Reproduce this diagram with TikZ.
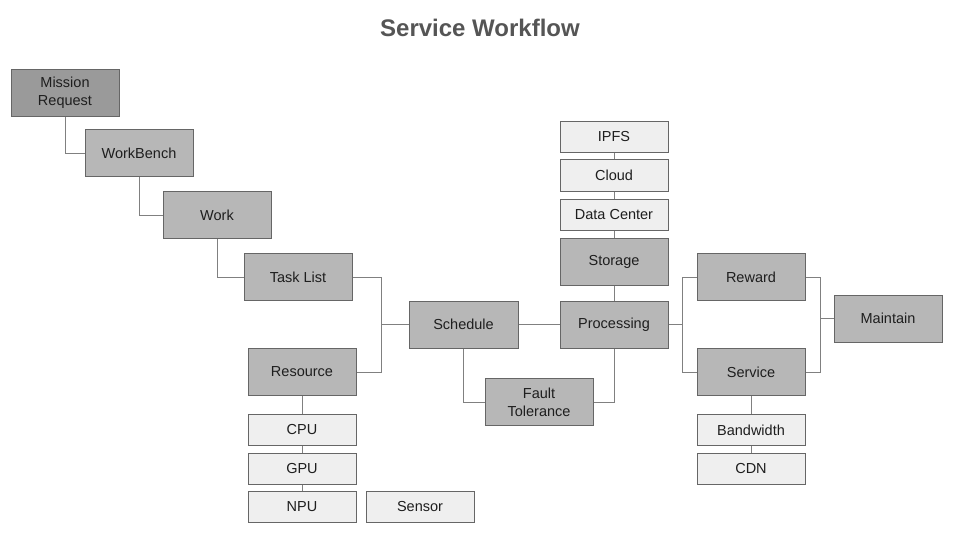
\documentclass[tikz,border=0pt]{standalone}
\usepackage{fontspec}
\setmainfont{Liberation Sans}
\usepackage{tikz}
\usetikzlibrary{positioning,calc}

\definecolor{boxline}{HTML}{666666}
\definecolor{wire}{HTML}{808080}
\definecolor{midfill}{HTML}{B7B7B7}
\definecolor{darkfill}{HTML}{9A9A9A}
\definecolor{lightfill}{HTML}{EFEFEF}
\definecolor{txt}{HTML}{1E1E1E}
\definecolor{titlegray}{HTML}{555555}

\begin{document}
\begin{tikzpicture}[x=1pt, y=-1pt,
    box/.style={draw=boxline, line width=1pt, fill=midfill, text=txt,
        minimum width=108pt, minimum height=47pt, inner sep=0pt,
        align=center, font=\fontsize{14.5}{18}\selectfont},
    topbox/.style={box, fill=darkfill},
    subbox/.style={box, fill=lightfill, minimum height=31pt},
    link/.style={draw=wire, line width=1pt}]
				\useasboundingbox (0,0) rectangle (960,540);
				
				\node [font=\bfseries\fontsize{24}{28}\selectfont, text=titlegray] (title) at (480,28) {Service Workflow};
				
				% left chain
				\node [topbox] (mission) at (65,93) {Mission\\Request};
				\node [box] (bench) at (139,153.5) {WorkBench};
				\node [box] (work) at (217,215) {Work};
				\node [box] (tasks) at (298,277) {Task List};
				\node [box] (resource) at (302,372) {Resource};
				\node [subbox] (cpu) at (302,429.5) {CPU};
				\node [subbox] (gpu) at (302,468.5) {GPU};
				\node [subbox] (npu) at (302,507) {NPU};
				\node [subbox] (sensor) at (420,507) {Sensor};
				
				% middle
				\node [box, minimum width=109pt] (schedule) at (463.5,324.5) {Schedule};
				\node [box] (fault) at (539,402) {Fault\\Tolerance};
				\node [box] (processing) at (614,324.5) {Processing};
				\node [box] (storage) at (614,261.5) {Storage};
				\node [subbox] (center) at (614,214.5) {Data Center};
				\node [subbox] (cloud) at (614,175.5) {Cloud};
				\node [subbox] (ipfs) at (614,137) {IPFS};
				
				% right
				\node [box] (reward) at (751,277) {Reward};
				\node [box] (service) at (751,372) {Service};
				\node [subbox] (bandwidth) at (751,430) {Bandwidth};
				\node [subbox] (cdn) at (751,468.5) {CDN};
				\node [box] (maintain) at (888,318.5) {Maintain};
				
				\coordinate (jleft) at (381,324.5);
				\coordinate (jmid) at (682,324.5);
				\coordinate (jright) at (820,318.5);
				
				\draw [link] (mission.south) |- (bench.west);
				\draw [link] (bench.south) |- (work.west);
				\draw [link] (work.south) |- (tasks.west);
				\draw [link] (tasks.east) -| (jleft);
				\draw [link] (resource.east) -| (jleft);
				\draw [link] (jleft) -- (schedule.west);
				\draw [link] (resource.south) -- (cpu.north);
				\draw [link] (cpu.south) -- (gpu.north);
				\draw [link] (gpu.south) -- (npu.north);
				
				\draw [link] (schedule.east) -- (processing.west);
				\draw [link] (schedule.south) |- (fault.west);
				\draw [link] (fault.east) -| (processing.south);
				\draw [link] (storage.south) -- (processing.north);
				\draw [link] (center.south) -- (storage.north);
				\draw [link] (cloud.south) -- (center.north);
				\draw [link] (ipfs.south) -- (cloud.north);
				
				\draw [link] (processing.east) -- (jmid);
				\draw [link] (jmid) |- (reward.west);
				\draw [link] (jmid) |- (service.west);
				\draw [link] (reward.east) -| (jright);
				\draw [link] (service.east) -| (jright);
				\draw [link] (jright) -- (maintain.west);
				\draw [link] (service.south) -- (bandwidth.north);
				\draw [link] (bandwidth.south) -- (cdn.north);
				\end{tikzpicture}
\end{document}
